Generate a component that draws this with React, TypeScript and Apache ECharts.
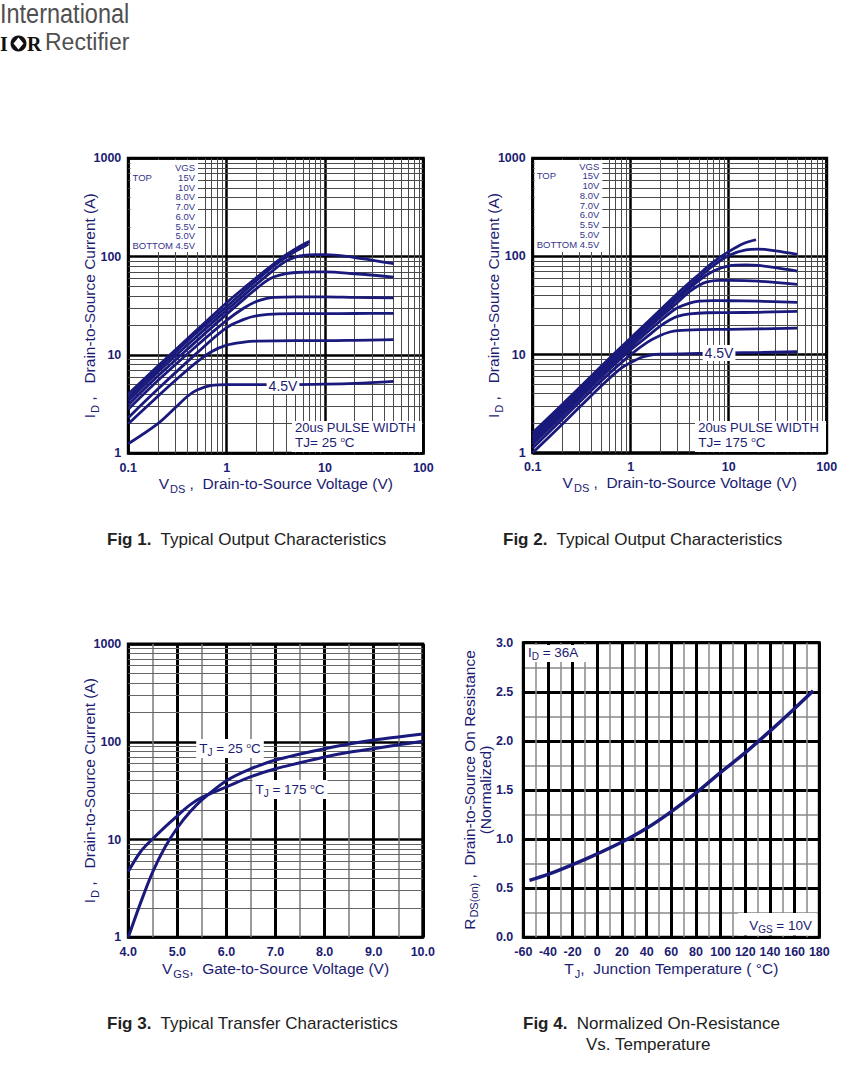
import { useEffect, useRef } from "react";
import * as echarts from "echarts";

const FONT = "'Liberation Sans', Arial, Helvetica, sans-serif";
const NAVY = "#1c1c72";
const LEG = "#35358a";
const CURVE = "#1a1a7c";
const MAJOR = "#000000";
const MINOR = "#4a4a4a";
const CAP = "#222222";

// ---- Fig 1: Typical Output Characteristics, TJ = 25 °C  [VDS (V), ID (A)]
const fig1Vgs15 = [[0.1, 4.0], [0.2, 7.7], [0.5, 18], [1, 34], [1.5, 48], [2, 61], [3, 84], [4, 104], [5, 120], [6, 133], [7, 143]];
const fig1Vgs10 = [[0.1, 3.7], [0.2, 7.2], [0.5, 17], [1, 31], [2, 57], [3, 80], [4, 98], [5, 113], [6, 125], [6.8, 135]];
const fig1Vgs8 = [[0.1, 3.4], [0.2, 6.7], [0.5, 15.5], [1, 28.5], [2, 52], [3, 73], [4, 90], [5, 99], [6, 103], [8, 105], [10, 105], [20, 98], [30, 92], [50, 85]];
const fig1Vgs7 = [[0.1, 3.1], [0.2, 6.1], [0.5, 14], [1, 26], [1.5, 37], [2, 47], [2.5, 56], [3, 62], [4, 67], [5, 69], [8, 70], [10, 70], [20, 67], [50, 62]];
const fig1Vgs6 = [[0.1, 2.8], [0.2, 5.5], [0.5, 12.5], [1, 22.5], [1.5, 30], [2, 35], [2.5, 37.5], [3, 38.5], [5, 39], [10, 39], [20, 38.5], [50, 38]];
const fig1Vgs55 = [[0.1, 2.3], [0.2, 4.5], [0.5, 10.5], [1, 19], [1.5, 23], [2, 25], [3, 26], [5, 26.3], [10, 26.3], [20, 26.4], [50, 26.5]];
const fig1Vgs5 = [[0.1, 2.0], [0.2, 3.8], [0.3, 5.5], [0.5, 8.5], [0.7, 10.8], [1, 12.6], [1.5, 13.5], [2, 13.8], [5, 14], [10, 14], [20, 14.1], [50, 14.3]];
const fig1Vgs45 = [[0.1, 1.25], [0.2, 2.0], [0.3, 2.9], [0.4, 3.8], [0.5, 4.4], [0.7, 4.9], [1, 5.0], [2, 5.0], [5, 5.0], [10, 5.05], [20, 5.15], [50, 5.4]];

// ---- Fig 2: Typical Output Characteristics, TJ = 175 °C  [VDS (V), ID (A)]
const fig2Vgs15 = [[0.1, 1.6], [0.2, 3.1], [0.5, 7.6], [1, 14.8], [2, 28.5], [3, 42], [5, 66], [7, 88], [10, 112], [14, 135], [19, 148]];
const fig2Vgs10 = [[0.1, 1.5], [0.2, 2.95], [0.5, 7.2], [1, 14], [2, 27], [3, 39], [5, 61], [7, 81], [10, 102], [15, 117], [20, 119], [30, 114], [50, 105]];
const fig2Vgs8 = [[0.1, 1.45], [0.2, 2.8], [0.5, 6.9], [1, 13.4], [2, 25.5], [3, 37], [5, 57], [7, 71], [10, 80], [15, 82], [20, 81], [30, 77], [50, 71]];
const fig2Vgs7 = [[0.1, 1.38], [0.2, 2.7], [0.5, 6.6], [1, 12.8], [2, 24], [3, 34], [4, 44], [5, 51], [6, 55], [8, 57], [10, 57], [20, 56], [50, 52]];
const fig2Vgs6 = [[0.1, 1.3], [0.2, 2.55], [0.5, 6.2], [1, 12], [2, 22], [2.5, 26.5], [3, 30], [4, 33.5], [5, 35], [7, 35.5], [10, 35.4], [20, 35], [50, 34]];
const fig2Vgs55 = [[0.1, 1.22], [0.2, 2.4], [0.5, 5.9], [1, 11.2], [1.5, 15.5], [2, 19.5], [2.5, 22.5], [3, 24.5], [4, 26], [6, 26.7], [10, 26.8], [20, 27], [50, 27.6]];
const fig2Vgs5 = [[0.1, 1.12], [0.2, 2.2], [0.5, 5.4], [1, 10], [1.5, 13.5], [2, 15.7], [2.5, 17], [3, 17.6], [5, 18], [10, 18.1], [20, 18.3], [50, 18.6]];
const fig2Vgs45 = [[0.1, 1.0], [0.2, 1.95], [0.5, 4.8], [0.8, 7.3], [1, 8.3], [1.3, 9.4], [1.6, 9.9], [2, 10.1], [5, 10.3], [10, 10.4], [20, 10.5], [50, 10.7]];

// ---- Fig 3: Typical Transfer Characteristics
const fig3Vgs = [4.0, 4.25, 4.5, 4.75, 5.0, 5.25, 5.5, 6.0, 6.5, 7.0, 7.5, 8.0, 8.5, 9.0, 9.5, 10.0];
const fig3Id25 = [1.0, 2.25, 4.7, 8.4, 13.2, 19, 25.5, 40, 53, 65, 75, 85, 95, 104, 112, 120];
const fig3Id175 = [4.7, 7.5, 10.2, 13.5, 17.5, 22.5, 27, 34.5, 44, 53, 61, 70, 78, 85, 93, 101];

// ---- Fig 4: Normalized On-Resistance vs. Temperature
const fig4Tj = [-55, -40, -20, 0, 20, 40, 60, 80, 100, 120, 140, 160, 175];
const fig4Rds = [0.58, 0.64, 0.74, 0.85, 0.97, 1.11, 1.28, 1.47, 1.68, 1.88, 2.1, 2.33, 2.51];

// ---- grid/tick helpers
const minorX = [0.2, 0.3, 0.4, 0.5, 0.6, 0.7, 0.8, 0.9, 2, 3, 4, 5, 6, 7, 8, 9, 20, 30, 40, 50, 60, 70, 80, 90];
const minorY = [2, 3, 4, 5, 6, 7, 8, 9, 20, 30, 40, 50, 60, 70, 80, 90, 200, 300, 400, 500, 600, 700, 800, 900];
const vgsLegend = ["15V", "10V", "8.0V", "7.0V", "6.0V", "5.5V", "5.0V", "4.5V"];

const labelStyle = { color: NAVY, fontSize: 12.5, fontWeight: "bold" as const, fontFamily: FONT };
const nameRich = {
  n: { fontSize: 15.5, color: NAVY, fontFamily: FONT, lineHeight: 19, verticalAlign: "top" },
  s: { fontSize: 11, color: NAVY, fontFamily: FONT, lineHeight: 12, verticalAlign: "top", padding: [8, 0, 0, 1] },
};
const nameRich4 = {
  n: { fontSize: 15.5, color: NAVY, fontFamily: FONT, lineHeight: 16, verticalAlign: "top" },
  s: { fontSize: 11, color: NAVY, fontFamily: FONT, lineHeight: 11, verticalAlign: "top", padding: [7, 0, 0, 1] },
};
const logFmt = (v: number) => String(+Number(v).toPrecision(3));

function logAxis(gi: number, min: number, max: number, name: string, gap: number, y: boolean) {
  return {
    gridIndex: gi, type: "log", logBase: 10, min, max,
    axisLine: { show: false }, axisTick: { show: false },
    axisLabel: { ...labelStyle, margin: y ? 7 : 8, formatter: logFmt },
    splitLine: { show: true, lineStyle: { color: MAJOR, width: 2.5 } },
    name, nameLocation: "middle", nameGap: gap, nameRotate: y ? 90 : 0, nameMoveOverlap: false,
    nameTextStyle: { rich: nameRich, align: "center" },
  };
}

function minorGrid(gi: number, xs: number[], ys: number[], color: string, width: number) {
  return {
    type: "line", xAxisIndex: gi, yAxisIndex: gi, data: [], symbol: "none", silent: true, z: 1,
    markLine: {
      silent: true, z: 2, symbol: ["none", "none"], animation: false, label: { show: false },
      emphasis: { disabled: true }, lineStyle: { color, width, type: "solid" },
      data: [...xs.map((v) => ({ xAxis: v })), ...ys.map((v) => ({ yAxis: v }))],
    },
  };
}

function curve(gi: number, data: number[][], width = 2.8) {
  return {
    type: "line", xAxisIndex: gi, yAxisIndex: gi, data, symbol: "none", showSymbol: false,
    smooth: 0.35, silent: true, z: 10,
    lineStyle: { color: CURVE, width }, emphasis: { disabled: true },
  };
}

const txt = (x: number, y: number, text: string, style: any = {}) => ({
  type: "text", x, y, z: 100, silent: true,
  style: { text, fill: NAVY, fontFamily: FONT, fontSize: 12, align: "left", verticalAlign: "middle", ...style },
});
const box = (x: number, y: number, w: number, h: number) => ({
  type: "rect", z: 99, silent: true, shape: { x, y, width: w, height: h }, style: { fill: "#ffffff" },
});

const smallRich = {
  m: { fontSize: 13.5, fill: NAVY, fontFamily: FONT, lineHeight: 15, verticalAlign: "top" },
  sub: { fontSize: 10, fill: NAVY, fontFamily: FONT, lineHeight: 10, verticalAlign: "top", padding: [6, 0, 0, 0] },
  sup: { fontSize: 8, fill: NAVY, fontFamily: FONT, lineHeight: 8, verticalAlign: "top" },
};
const capRich = {
  b: { fontSize: 17, fontWeight: "bold", fill: CAP, fontFamily: FONT },
  r: { fontSize: 17, fill: CAP, fontFamily: FONT },
};

function legendBlock(right: number, left: number, vgsY: number, topY: number, step: number) {
  const fs = 9.5;
  const els: any[] = [box(left - 2, 160, right - left + 5, 92)];
  els.push(txt(right, vgsY, "VGS", { align: "right", fontSize: fs, fill: LEG }));
  els.push(txt(left, topY, "TOP", { fontSize: fs, fill: LEG }));
  vgsLegend.forEach((l, i) => els.push(txt(right, topY + step * i, l, { align: "right", fontSize: fs, fill: LEG })));
  els.push(txt(left, topY + step * 7, "BOTTOM", { fontSize: fs, fill: LEG }));
  return els;
}

function buildOption() {
  const graphic: any[] = [
    // logo
    { type: "text", x: 0, y: 0, z: 100, scaleX: 0.87, style: { text: "International", fill: "#505050", fontFamily: FONT, fontSize: 27, verticalAlign: "top" } },
    { type: "text", x: 0, y: 44, z: 100, style: { text: "I", fill: "#111", fontFamily: "'Liberation Serif', serif", fontWeight: "bold", fontSize: 20, verticalAlign: "middle" } },
    { type: "circle", z: 100, shape: { cx: 18.5, cy: 43.5, r: 8 }, style: { fill: "#111" } },
    { type: "polygon", z: 101, shape: { points: [[18.5, 37.5], [23.5, 43.5], [18.5, 49.5], [13.5, 43.5]] }, style: { fill: "#fff" } },
    { type: "text", x: 27, y: 44, z: 100, style: { text: "R", fill: "#111", fontFamily: "'Liberation Serif', serif", fontWeight: "bold", fontSize: 20, verticalAlign: "middle" } },
    { type: "text", x: 45, y: 42, z: 100, style: { text: "Rectifier", fill: "#505050", fontFamily: FONT, fontSize: 23, verticalAlign: "middle" } },

    // Fig 1 annotations
    ...legendBlock(195, 132.5, 167.7, 177.3, 9.77),
    txt(283, 386, "4.5V", { align: "center", fontSize: 14, backgroundColor: "#fff", padding: [1, 2] }),
    box(292, 421, 130, 31),
    txt(295, 427.5, "20us PULSE WIDTH", { fontSize: 13 }),
    txt(295, 443, "{m|TJ= 25 }{sup|o}{m|C}", { rich: smallRich }),

    // Fig 2 annotations
    ...legendBlock(599.3, 536.7, 166, 175.7, 9.8),
    txt(719, 353, "4.5V", { align: "center", fontSize: 14, backgroundColor: "#fff", padding: [1, 2] }),
    box(695, 421, 131, 31),
    txt(698.3, 427, "20us PULSE WIDTH", { fontSize: 13 }),
    txt(698.3, 442.5, "{m|TJ= 175 }{sup|o}{m|C}", { rich: smallRich }),

    // Fig 3 annotations
    txt(230, 748.5, "{m|T}{sub|J}{m| = 25 }{sup|o}{m|C}", { rich: smallRich, align: "center", backgroundColor: "#fff", padding: [2, 3] }),
    txt(290, 789.5, "{m|T}{sub|J}{m| = 175 }{sup|o}{m|C}", { rich: smallRich, align: "center", backgroundColor: "#fff", padding: [2, 3] }),

    // Fig 4 annotations
    box(525, 645, 71, 17),
    txt(528, 653, "{m|I}{sub|D}{m| = 36A}", { rich: smallRich }),
    box(738, 913, 79, 22.5),
    txt(812, 926, "{m|V}{sub|GS}{m| = 10V}", { rich: smallRich, align: "right" }),

    // captions
    txt(107, 539, "{b|Fig 1.}{r|  Typical Output Characteristics}", { rich: capRich }),
    txt(503, 539, "{b|Fig 2.}{r|  Typical Output Characteristics}", { rich: capRich }),
    txt(107, 1023, "{b|Fig 3.}{r|  Typical Transfer Characteristics}", { rich: capRich }),
    txt(523, 1023, "{b|Fig 4.}{r|  Normalized On-Resistance}", { rich: capRich }),
    txt(586, 1044, "{r|Vs. Temperature}", { rich: capRich }),
  ];

  const gridBase = { show: true, borderColor: "#000", borderWidth: 3, containLabel: false, outerBoundsMode: "none" };
  const idName = "{n|I}{s|D}{n| ,   Drain-to-Source Current (A)}";
  const vdsName = "{n|V}{s|DS}{n| ,  Drain-to-Source Voltage (V)}";

  const fig3Data25 = fig3Vgs.map((v, i) => [v, fig3Id25[i]]);
  const fig3Data175 = fig3Vgs.map((v, i) => [v, fig3Id175[i]]);
  const fig4Data = fig4Tj.map((t, i) => [t, fig4Rds[i]]);

  return {
    animation: false,
    backgroundColor: "#ffffff",
    textStyle: { fontFamily: FONT },
    grid: [
      { ...gridBase, left: 128.3, top: 158.3, width: 295, height: 295 },
      { ...gridBase, left: 532.7, top: 158.3, width: 294, height: 294.5 },
      { ...gridBase, left: 128.3, top: 644, width: 294.5, height: 293.3 },
      { ...gridBase, left: 523.3, top: 642.7, width: 296, height: 294.6 },
    ],
    xAxis: [
      logAxis(0, 0.1, 100, vdsName, 22, false),
      logAxis(1, 0.1, 100, vdsName, 22, false),
      {
        gridIndex: 2, type: "value", min: 4, max: 10, interval: 1,
        axisLine: { show: false }, axisTick: { show: false },
        axisLabel: { ...labelStyle, margin: 8, formatter: (v: number) => v.toFixed(1) },
        splitLine: { show: true, lineStyle: { color: MAJOR, width: 3 } },
        minorTick: { show: false, splitNumber: 2 },
        minorSplitLine: { show: true, lineStyle: { color: "#7a7a7a", width: 1.5 } },
        name: "{n|V}{s|GS}{n|,  Gate-to-Source Voltage (V)}", nameLocation: "middle", nameGap: 23, nameMoveOverlap: false,
        nameTextStyle: { rich: nameRich, align: "center" },
      },
      {
        gridIndex: 3, type: "value", min: -60, max: 180, interval: 20,
        axisLine: { show: false }, axisTick: { show: false },
        axisLabel: { ...labelStyle, margin: 8 },
        splitLine: { show: true, lineStyle: { color: MAJOR, width: 3 } },
        minorTick: { show: false, splitNumber: 2 },
        minorSplitLine: { show: true, lineStyle: { color: "#8a8a8a", width: 1.5 } },
        name: "{n|T}{s|J}{n|,  Junction Temperature ( °C)}", nameLocation: "middle", nameGap: 23, nameMoveOverlap: false,
        nameTextStyle: { rich: nameRich, align: "center" },
      },
    ],
    yAxis: [
      logAxis(0, 1, 1000, idName, 28, true),
      logAxis(1, 1, 1000, idName, 28, true),
      logAxis(2, 1, 1000, idName, 28, true),
      {
        gridIndex: 3, type: "value", min: 0, max: 3, interval: 0.5,
        axisLine: { show: false }, axisTick: { show: false },
        axisLabel: { ...labelStyle, margin: 10, formatter: (v: number) => v.toFixed(1) },
        splitLine: { show: true, lineStyle: { color: MAJOR, width: 3 } },
        minorTick: { show: false, splitNumber: 2 },
        minorSplitLine: { show: true, lineStyle: { color: "#8a8a8a", width: 1.5 } },
        name: "{n|R}{s|DS(on)}{n| ,  Drain-to-Source On Resistance}\n{n|(Normalized)}",
        nameLocation: "middle", nameGap: 30, nameRotate: 90, nameMoveOverlap: false,
        nameTextStyle: { rich: nameRich4, align: "center" },
      },
    ],
    series: [
      minorGrid(0, minorX, minorY, MINOR, 1),
      minorGrid(1, minorX, minorY, MINOR, 1),
      minorGrid(2, [], minorY, "#666", 1.2),
      curve(0, fig1Vgs15), curve(0, fig1Vgs10), curve(0, fig1Vgs8), curve(0, fig1Vgs7),
      curve(0, fig1Vgs6), curve(0, fig1Vgs55), curve(0, fig1Vgs5), curve(0, fig1Vgs45),
      curve(1, fig2Vgs15), curve(1, fig2Vgs10), curve(1, fig2Vgs8), curve(1, fig2Vgs7),
      curve(1, fig2Vgs6), curve(1, fig2Vgs55), curve(1, fig2Vgs5), curve(1, fig2Vgs45),
      curve(2, fig3Data25, 3), curve(2, fig3Data175, 3),
      curve(3, fig4Data, 3.5),
    ],
    graphic,
  };
}

export default function App() {
  const ref = useRef<HTMLDivElement>(null);
  useEffect(() => {
    if (!ref.current) return;
    const chart = echarts.init(ref.current, undefined, { renderer: "svg" });
    chart.setOption(buildOption() as any);
    return () => chart.dispose();
  }, []);
  return (
    <div
      ref={ref}
      style={{ position: "absolute", left: 0, top: 0, width: 866, height: 1066, background: "#fff" }}
    />
  );
}
